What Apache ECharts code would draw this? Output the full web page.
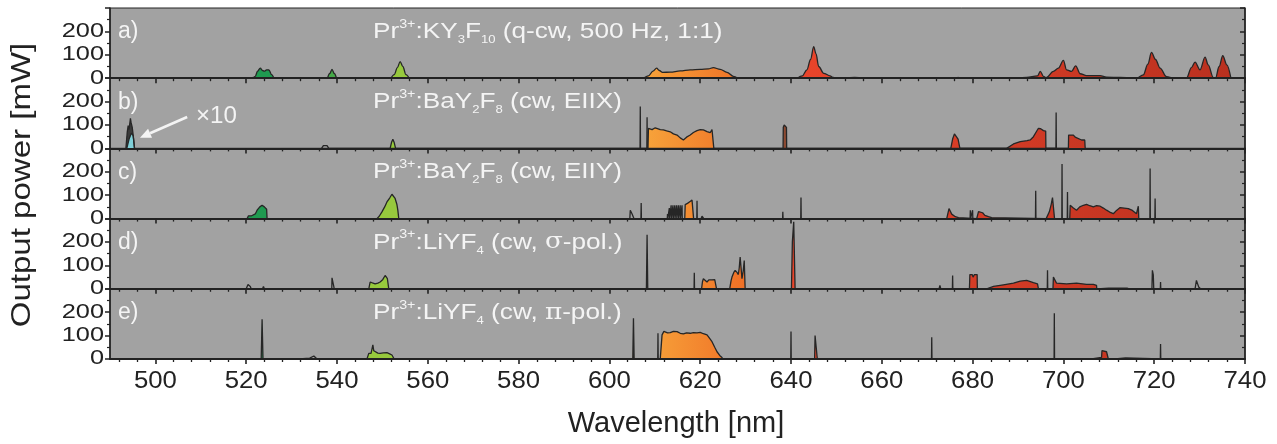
<!DOCTYPE html>
<html><head><meta charset="utf-8">
<script src="https://cdn.jsdelivr.net/npm/echarts@6/dist/echarts.min.js"></script>
<style>html,body{margin:0;padding:0;background:#fff}#c{width:1277px;height:444px}</style>
</head><body><div id="c"></div>
<script>
// ---------- data (wavelength nm, output power mW) ----------
const xTicks = [500,520,540,560,580,600,620,640,660,680,700,720,740];
const xMinorTicks = [];
for (let v = 492; v <= 740; v += 4) if ((v - 500) % 20 !== 0) xMinorTicks.push(v);
const yTickLabels = [0,100,200];
const panelLabels = ['a)','b)','c)','d)','e)'];
const panelTitles = [
  'Pr{sup|3+}:KY{sub|3}F{sub|10} (q-cw, 500 Hz, 1:1)',
  'Pr{sup|3+}:BaY{sub|2}F{sub|8} (cw, EIIX)',
  'Pr{sup|3+}:BaY{sub|2}F{sub|8} (cw, EIIY)',
  'Pr{sup|3+}:LiYF{sub|4} (cw, {g|σ}-pol.)',
  'Pr{sup|3+}:LiYF{sub|4} (cw, {g|π}-pol.)'
];

// Panel a
const A_dgreen = [[521.0,0],[521.6,3],[522.0,8],[522.5,30],[523.1,43],[523.6,33],[524.0,30],[524.5,36],[525.0,35],[525.6,15],[526.1,0]];
const A_green = [[537.9,0],[538.4,20],[538.9,38],[539.4,20],[539.9,0]];
const A_lime = [[551.9,0],[552.6,15],[553.3,45],[553.9,71],[554.5,50],[555.2,15],[555.9,0]];
const A_orange = [[606.8,0],[607.5,2],[608.6,10],[609.6,30],[610.4,43],[611.0,33],[611.7,25],[613.4,26],[615.6,31],[617.8,36],[620.0,38],[621.8,40],[622.9,45],[624.4,38],[625.9,25],[627.3,8],[628.3,0]];
const A_red = [[641.4,0],[642.5,10],[643.5,36],[644.3,80],[645.0,135],[645.5,105],[646.1,50],[647.2,21],[648.6,10],[649.3,3],[650.5,0],[652,2],[654,3],[656,1],[658,0],[672.3,0],[672.8,2],[673.3,0],[676.3,0],[676.8,3],[677.3,0],[687.9,0],[691.9,3],[694.3,10],[694.9,29],[695.6,8],[696.2,2],[697.8,29],[698.9,43],[700.0,76],[700.7,36],[701.8,29],[702.7,53],[703.7,19],[705.1,11],[708.1,11],[709.5,4],[712.5,3],[715.3,1],[716.1,0],[717.6,14],[718.6,60],[719.4,110],[720.3,80],[721.3,43],[722.7,7],[724.2,0],[727.1,0],[728.2,45],[729.0,69],[730.1,36],[731.2,90],[731.9,57],[733.0,3],[733.5,0],[734.3,50],[735.1,96],[736.0,57],[736.9,0]];

// Panel b
const B_dark = [[493.5,0],[493.8,70],[494.0,97],[494.2,80],[494.35,105],[494.5,128],[494.65,110],[494.9,90],[495.2,40],[495.4,0]];
const B_cyan = [[493.7,0],[494.2,40],[494.7,65],[495.1,55],[495.4,0]];
const B_lime = [[551.7,0],[552.0,25],[552.3,39],[552.6,25],[552.9,0]];
const B_orange = [[608.5,0],[608.6,86],[609.0,93],[609.4,80],[609.7,76],[610.1,88],[610.5,86],[611.2,80],[611.9,79],[612.6,75],[613.4,71],[614.1,62],[614.9,57],[615.6,45],[616.3,36],[617.0,48],[617.8,57],[618.5,68],[619.3,76],[620.0,80],[620.7,79],[621.5,72],[622.2,67],[622.6,81],[622.9,78],[623.0,0]];
const B_brown = [[638.25,0],[638.3,90],[638.5,100],[638.8,100],[639.0,90],[639.05,0]];
const B_red = [[675.2,0],[675.6,40],[676.0,62],[676.4,64],[676.8,40],[677.2,0],[687.5,0],[689.0,19],[690.5,29],[692.0,33],[692.7,36],[693.4,50],[694.0,70],[694.5,86],[695.0,84],[695.2,81],[695.6,76],[696.1,74],[696.15,0],[701.1,0],[701.15,57],[702.2,57],[702.6,48],[703.0,43],[704.0,36],[704.7,36],[704.8,0]];
const B_lines = [[536.6,0],[537.0,12],[537.4,19],[537.8,12],[538.2,0],[606.75,0],[606.8,179],[606.85,0],[608.25,0],[608.3,133],[608.35,0],[632.5,0],[632.8,3],[633.1,0],[698.35,0],[698.4,153],[698.45,0]];

// Panel c
const C_dgreen = [[520.2,0],[520.5,12],[520.8,19],[521.2,12],[521.5,7],[522.0,20],[522.4,36],[523.0,50],[523.5,57],[524.0,50],[524.5,40],[524.6,0]];
const C_lime = [[548.8,0],[549.3,10],[549.9,29],[550.5,50],[551.0,71],[551.6,88],[552.1,104],[552.5,98],[552.8,86],[553.2,60],[553.4,36],[553.6,0]];
const C_orange = [[616.6,0],[616.7,60],[617.2,65],[617.7,72],[618.2,79],[618.5,79],[618.55,0]];
const C_red = [[674.3,0],[674.8,43],[675.4,19],[676.2,8],[676.9,4],[677.2,0],[680.9,0],[681.3,30],[681.6,36],[682.2,25],[682.7,14],[683.5,8],[684.2,4],[684.5,0],[696.2,0],[696.9,29],[697.3,60],[697.6,90],[698.0,86],[698.05,0],[701.4,0],[701.5,57],[702.2,45],[702.9,36],[703.6,50],[704.4,57],[705.1,61],[705.8,55],[706.6,50],[707.3,55],[708.1,53],[708.8,45],[709.5,36],[710.2,28],[711.0,21],[711.7,35],[712.5,47],[713.4,45],[714.3,43],[715.2,35],[716.1,21],[716.5,53],[716.6,0]];
const C_lines = [[537.2,0],[537.4,5],[537.6,0],[604.5,0],[604.6,36],[604.8,30],[605.0,20],[605.3,12],[605.4,0],[606.95,0],[607.0,67],[607.05,0],[612.75,0],[612.8,20],[612.85,0],[613.15,0],[613.2,45],[613.25,0],[613.55,0],[613.6,57],[613.65,0],[613.95,0],[614.0,57],[614.05,0],[614.35,0],[614.4,57],[614.45,0],[614.75,0],[614.8,57],[614.85,0],[615.15,0],[615.2,57],[615.25,0],[615.55,0],[615.6,57],[615.65,0],[615.95,0],[616.0,57],[616.05,0],[619.25,0],[619.3,76],[619.35,0],[620.2,0],[620.4,10],[620.8,0],[638.15,0],[638.2,29],[638.25,0],[642.15,0],[642.2,90],[642.25,0],[679.45,0],[679.5,36],[679.55,0],[679.95,0],[680.0,36],[680.05,0],[693.85,0],[693.9,119],[693.95,0],[699.65,0],[699.7,233],[699.75,0],[700.85,0],[700.9,114],[700.95,0],[719.05,0],[719.1,214],[719.15,0],[720.15,0],[720.2,86],[720.25,0],[726.9,0],[727.1,5],[727.3,0],[735.4,0],[735.6,5],[735.8,0]];

// Panel d
const D_lime = [[547.0,0],[547.3,29],[547.8,25],[548.4,21],[549.0,24],[549.5,29],[550.1,40],[550.6,57],[550.9,50],[551.1,43],[551.4,0]];
const D_orange = [[620.3,0],[620.5,30],[620.7,43],[621.1,35],[621.5,29],[621.9,38],[622.2,43],[622.6,38],[622.9,36],[623.2,39],[623.5,39],[623.6,0],[626.5,0],[626.8,35],[627.0,50],[627.4,70],[627.7,79],[628.1,70],[628.4,61],[628.6,90],[628.8,136],[629.0,90],[629.2,43],[629.5,80],[629.7,121],[629.8,60],[629.9,0]];
const D_red = [[640.1,0],[640.3,200],[640.6,286],[640.8,280],[640.9,0],[679.3,0],[679.4,61],[679.9,61],[680.1,50],[680.4,61],[681.0,61],[681.05,0],[683.1,0],[684.6,10],[686.8,17],[689.0,24],[690.5,33],[691.9,36],[693.4,26],[694.3,21],[694.5,0],[697.7,0],[697.8,50],[698.5,24],[700.7,21],[702.9,24],[705.1,19],[706.6,19],[707.3,15],[707.35,0]];
const D_lines = [[520.0,0],[520.4,18],[520.6,21],[520.9,10],[521.1,0],[523.6,0],[523.8,10],[524.0,0],[538.85,0],[538.9,47],[539.3,40],[539.4,0],[608.15,0],[608.3,231],[608.45,0],[618.65,0],[618.7,69],[618.75,0],[672.6,0],[672.8,14],[673.0,0],[675.55,0],[675.6,57],[675.65,0],[696.45,0],[696.5,79],[696.55,0],[707.4,0],[710,3],[714,3],[714.5,0],[719.5,0],[719.6,79],[719.8,60],[719.9,0],[721.35,0],[721.4,29],[721.45,0],[729.0,0],[729.3,36],[729.8,8],[730.2,0]];

// Panel e
const E_dgreen = [[523.3,0],[523.5,170],[523.7,0]];
const E_lime = [[546.6,0],[547.0,24],[547.5,24],[547.9,60],[548.1,35],[548.4,27],[549.0,25],[549.5,24],[550.2,26],[551.0,27],[551.6,22],[552.1,17],[552.6,0]];
const E_orange = [[605.15,0],[605.3,174],[605.45,0],[611.2,0],[611.6,103],[612.0,118],[612.3,124],[612.8,112],[613.4,113],[614.1,118],[614.9,117],[615.6,110],[616.3,107],[617.0,112],[617.8,110],[618.5,113],[619.3,112],[620.0,114],[620.7,108],[621.5,103],[622.0,90],[622.6,74],[623.2,50],[623.7,31],[624.3,15],[624.8,6],[625.0,0]];
const E_red = [[645.2,0],[645.3,100],[645.5,107],[645.7,100],[645.8,0],[706.2,0],[706.3,7],[708.4,7],[708.5,36],[709.5,31],[709.9,0]];
const E_lines = [[531.9,0],[532.5,2],[534.0,4],[534.9,13],[535.6,0],[610.65,0],[610.7,110],[610.75,0],[639.95,0],[640.0,117],[640.05,0],[670.95,0],[671.0,93],[671.05,0],[697.95,0],[698.0,196],[698.05,0],[711.4,0],[711.6,5],[713.7,5],[713.9,0],[721.35,0],[721.4,64],[721.45,0]];

const arrowFrom = [507.0, 134];
const arrowTo = [496.6, 46];

// ---------- layout / style ----------
const LEFT = 110, RIGHTX = 1245, TOP0 = 8, PH = 70.2;
const XMIN = 490, XMAX = 740;
const FONT = '"Liberation Sans", Arial, Helvetica, sans-serif';
const BG = '#a2a2a2';
const INK = '#222';
const WHITE = '#f4f4f4';
const pxOf = (l) => LEFT + (l - XMIN) / (XMAX - XMIN) * (RIGHTX - LEFT);

const orangeGrad = new echarts.graphic.LinearGradient(pxOf(606), 0, pxOf(630), 0,
  [{offset:0,color:'#f8a83c'},{offset:1,color:'#ef6f26'}], true);
const redGrad = new echarts.graphic.LinearGradient(pxOf(640), 0, pxOf(738), 0,
  [{offset:0,color:'#ea452b'},{offset:1,color:'#b9301f'}], true);

const fills = {
  cyan: '#7fd0d8', dgreen: '#1f9a50', green: '#45a848', lime: '#97c93d',
  orange: orangeGrad, red: redGrad, brown: '#8c4a32', dark: '#3a3a3a', none: null
};

const panelSeries = [
  [['dgreen',A_dgreen],['green',A_green],['lime',A_lime],['orange',A_orange],['red',A_red]],
  [['dark',B_dark],['cyan',B_cyan],['lime',B_lime],['orange',B_orange],['brown',B_brown],['red',B_red],['none',B_lines]],
  [['dgreen',C_dgreen],['lime',C_lime],['orange',C_orange],['red',C_red],['none',C_lines]],
  [['lime',D_lime],['orange',D_orange],['red',D_red],['none',D_lines]],
  [['dgreen',E_dgreen],['lime',E_lime],['orange',E_orange],['red',E_red],['none',E_lines]]
];

const grids = [], xAxes = [], yAxes = [], series = [];
for (let i = 0; i < 5; i++) {
  grids.push({left: LEFT, top: TOP0 + i * PH, width: RIGHTX - LEFT, height: PH,
    show: true, backgroundColor: BG, borderColor: INK, borderWidth: 1, containLabel: false});
  xAxes.push({gridIndex: i, type: 'value', min: XMIN, max: XMAX, position: 'bottom',
    axisLine: {show: true, onZero: false, lineStyle: {color: INK, width: 2.2}},
    axisTick: {show: true, inside: false, length: 5, customValues: xTicks, lineStyle: {color: INK, width: 1.6}},
    axisLabel: {show: false, customValues: xTicks}, splitLine: {show: false}, z: 5});
  xAxes.push({gridIndex: i, type: 'value', min: XMIN, max: XMAX, position: 'bottom',
    axisLine: {show: false},
    axisTick: {show: true, inside: false, length: 3, customValues: xMinorTicks, lineStyle: {color: INK, width: 1.3}},
    axisLabel: {show: false, customValues: xMinorTicks}, splitLine: {show: false}});
  yAxes.push({gridIndex: i, type: 'value', min: 0, max: 300, interval: 100, position: 'left',
    axisLine: {show: true, lineStyle: {color: INK, width: 1.6}},
    axisTick: {show: true, inside: false, length: 5, lineStyle: {color: INK, width: 1.5}},
    minorTick: {show: true, splitNumber: 2, length: 3, lineStyle: {color: INK, width: 1.2}},
    axisLabel: {show: false}, splitLine: {show: false}});
  yAxes.push({gridIndex: i, type: 'value', min: 0, max: 300, interval: 100, position: 'right',
    axisLine: {show: true, lineStyle: {color: INK, width: 1.6}},
    axisTick: {show: true, inside: true, length: 5, lineStyle: {color: INK, width: 1.5}},
    minorTick: {show: true, splitNumber: 2, length: 3, lineStyle: {color: INK, width: 1.2}},
    axisLabel: {show: false}, splitLine: {show: false}});
  panelSeries[i].forEach(([kind, data]) => {
    const s = {
      type: 'line', xAxisIndex: 2 * i, yAxisIndex: 2 * i, data: data,
      symbol: 'none', animation: false, silent: true,
      lineStyle: {color: '#262626', width: 1.3},
      z: kind === 'none' ? 3 : 2
    };
    if (i === 0) { s.smooth = 0.35; s.smoothMonotone = 'x'; }
    if (kind !== 'none') s.areaStyle = {color: fills[kind], opacity: 1};
    series.push(s);
  });
}

const chart = echarts.init(document.getElementById('c'), null, {renderer: 'canvas'});
chart.setOption({
  animation: false, backgroundColor: '#fff',
  grid: grids, xAxis: xAxes, yAxis: yAxes, series: series
});

// ---------- text (real text, placed through the axes' scales) ----------
const g = [];
const textStyle = (o) => Object.assign({fontFamily: FONT, fill: INK}, o);
for (let i = 0; i < 5; i++) {
  const top = TOP0 + i * PH;
  yTickLabels.forEach(v => {
    const py = chart.convertToPixel({yAxisIndex: 2 * i}, v);
    g.push({type: 'text', x: 104, y: py, scaleX: 1.3, silent: true,
      style: textStyle({text: String(v), fontSize: 19.5, align: 'right', verticalAlign: 'middle'})});
  });
  g.push({type: 'text', x: 118, y: top + 24, silent: true, z: 10,
    style: textStyle({text: panelLabels[i], fontSize: 23, fill: WHITE, align: 'left', verticalAlign: 'middle'})});
  g.push({type: 'text', x: 373, y: top + 24, scaleX: 1.19, silent: true, z: 10,
    style: {text: panelTitles[i], fontFamily: FONT, fontSize: 22, fill: WHITE, align: 'left', verticalAlign: 'middle',
      rich: {
        sup: {fontSize: 12, fontFamily: FONT, fill: WHITE, verticalAlign: 'top', lineHeight: 27},
        sub: {fontSize: 11, fontFamily: FONT, fill: WHITE, verticalAlign: 'bottom', lineHeight: 27},
        g: {fontSize: 22, fontFamily: '"DejaVu Serif", serif', fill: WHITE, lineHeight: 27}
      }}});
}
const bottomY = TOP0 + 5 * PH;
xTicks.forEach(v => {
  const px = chart.convertToPixel({xAxisIndex: 8}, v);
  g.push({type: 'text', x: px, y: bottomY + 23, scaleX: 1.12, silent: true,
    style: textStyle({text: String(v), fontSize: 23, align: 'center', verticalAlign: 'middle'})});
});
g.push({type: 'text', x: 676, y: 424, silent: true,
  style: textStyle({text: 'Wavelength [nm]', fontSize: 29, align: 'center', verticalAlign: 'middle'})});
g.push({type: 'text', x: 22, y: 185, rotation: Math.PI / 2, scaleX: 1.18, silent: true,
  style: textStyle({text: 'Output power [mW]', fontSize: 28, align: 'center', verticalAlign: 'middle'})});

// x10 annotation with arrow (panel b)
const pFrom = chart.convertToPixel({xAxisIndex: 2, yAxisIndex: 2}, arrowFrom);
const pTo = chart.convertToPixel({xAxisIndex: 2, yAxisIndex: 2}, arrowTo);
const ang = Math.atan2(pTo[1] - pFrom[1], pTo[0] - pFrom[0]);
const headLen = 11, headW = 5;
const bx = pTo[0] - headLen * Math.cos(ang), by = pTo[1] - headLen * Math.sin(ang);
g.push({type: 'line', silent: true, z: 10,
  shape: {x1: pFrom[0], y1: pFrom[1], x2: bx, y2: by}, style: {stroke: WHITE, lineWidth: 2.6}});
g.push({type: 'polygon', silent: true, z: 10,
  shape: {points: [pTo, [bx + headW * Math.sin(ang), by - headW * Math.cos(ang)], [bx - headW * Math.sin(ang), by + headW * Math.cos(ang)]]},
  style: {fill: WHITE}});
g.push({type: 'text', x: 196, y: 117, scaleX: 1.05, silent: true, z: 10,
  style: textStyle({text: '×10', fontSize: 23, fill: WHITE, align: 'left', verticalAlign: 'middle'})});

chart.setOption({graphic: {elements: g}});
</script>
</body></html>
